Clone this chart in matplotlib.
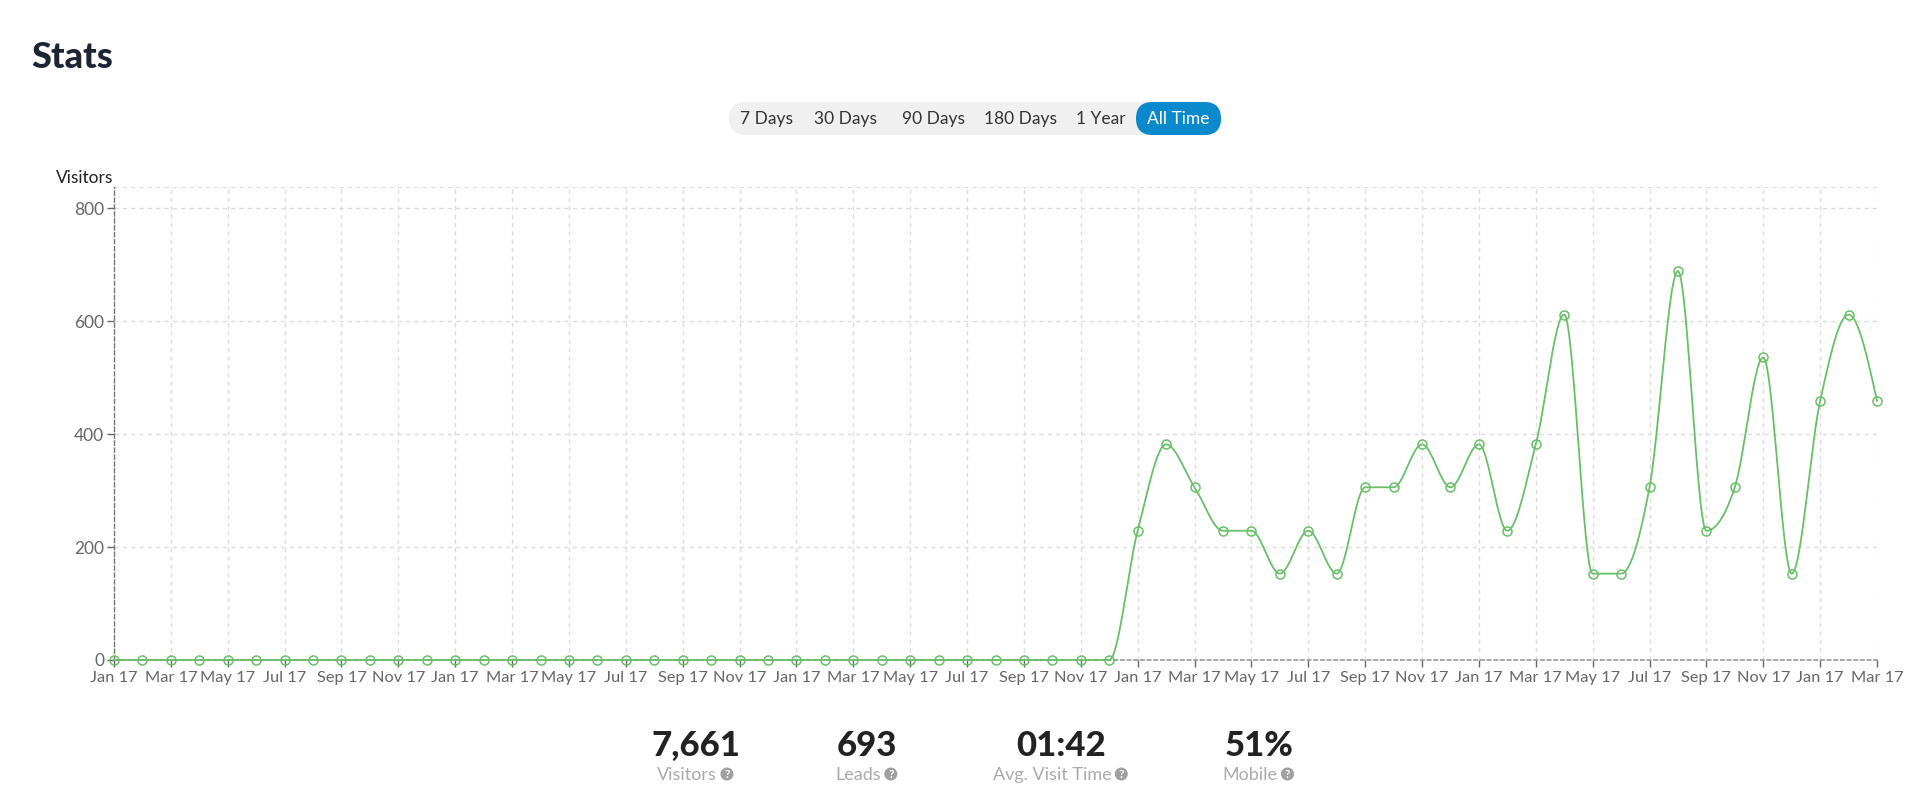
import numpy as np
import matplotlib
matplotlib.use("Agg")
import matplotlib.pyplot as plt
from matplotlib.patches import FancyBboxPatch, Circle

plt.rcParams['font.family'] = ['Lato', 'DejaVu Sans']

# ---------------- data ----------------
visitors = [0] * 36 + [229, 382, 306, 229, 229, 153, 229, 153, 306, 306, 382, 306,
                       382, 229, 382, 612, 153, 153, 306, 689, 229, 306, 536, 153,
                       459, 612, 459]
tick_labels = (["Jan 17", "Mar 17", "May 17", "Jul 17", "Sep 17", "Nov 17"] * 5
               + ["Jan 17", "Mar 17"])
y_ticks = [0, 200, 400, 600, 800]
ranges = ["7 Days", "30 Days", "90 Days", "180 Days", "1 Year", "All Time"]
stat_values = ["7,661", "693", "01:42", "51%"]
stat_names = ["Visitors", "Leads", "Avg. Visit Time", "Mobile"]

GREEN = "#6abf69"
W, H = 1920, 806
fig = plt.figure(figsize=(W / 100, H / 100), dpi=100)

# overlay in pixel coordinates
ov = fig.add_axes([0, 0, 1, 1])
ov.set_xlim(0, W)
ov.set_ylim(H, 0)
ov.axis("off")

# ---------------- chart ----------------
ax = fig.add_axes([114 / W, 1 - 660 / H, (1877 - 114) / W, (660 - 187) / H])
x = np.arange(len(visitors))
y = np.array(visitors, dtype=float)


def monotone(xs, ys, n=30):
    h = np.diff(xs)
    s = np.diff(ys) / h
    t = np.zeros_like(ys)
    for i in range(1, len(ys) - 1):
        p = (s[i - 1] * h[i] + s[i] * h[i - 1]) / (h[i - 1] + h[i])
        t[i] = (np.sign(s[i - 1]) + np.sign(s[i])) * min(abs(s[i - 1]), abs(s[i]), 0.5 * abs(p))
    t[0] = (3 * s[0] - t[1]) / 2 if len(ys) > 2 else s[0]
    t[-1] = (3 * s[-1] - t[-2]) / 2
    X, Y = [], []
    for i in range(len(ys) - 1):
        u = np.linspace(0, 1, n, endpoint=False)
        h00 = 2 * u**3 - 3 * u**2 + 1
        h10 = u**3 - 2 * u**2 + u
        h01 = -2 * u**3 + 3 * u**2
        h11 = u**3 - u**2
        X.append(xs[i] + u * h[i])
        Y.append(h00 * ys[i] + h10 * h[i] * t[i] + h01 * ys[i + 1] + h11 * h[i] * t[i + 1])
    X.append([xs[-1]])
    Y.append([ys[-1]])
    return np.concatenate(X), np.concatenate(Y)


cx, cy = monotone(x.astype(float), y)
ax.plot(cx, cy, color=GREEN, lw=1.3, zorder=3, clip_on=False)
ax.plot(x, y, 'o', ms=6.5, mfc='none', mec=GREEN, mew=1.1, zorder=4, clip_on=False)

ax.set_xlim(0, len(visitors) - 1)
ax.set_ylim(0, 838)
ax.set_xticks(np.arange(0, len(visitors), 2))
ax.set_xticklabels(tick_labels)
ax.set_yticks(y_ticks)
ax.set_yticklabels([str(v) for v in y_ticks])

ax.grid(True, color="#dcdcdc", linestyle=(0, (3, 3)), lw=1)
ax.set_axisbelow(True)
for side in ["top", "right"]:
    ax.spines[side].set_visible(False)
ax.spines["left"].set_color("#777777")
ax.spines["left"].set_linestyle((0, (3, 2)))
ax.spines["left"].set_linewidth(1)
ax.spines["bottom"].set_color("#999999")
ax.spines["bottom"].set_linestyle((0, (2, 2)))
ax.spines["bottom"].set_linewidth(1.2)
ax.axhline(838, color="#dcdcdc", linestyle=(0, (3, 3)), lw=1, zorder=1)
ax.tick_params(axis="both", colors="#666666", length=5, width=1)
ax.tick_params(axis="x", labelsize=11.8, pad=3)
ax.tick_params(axis="y", labelsize=12.5, pad=2)
for lab in ax.get_xticklabels() + ax.get_yticklabels():
    lab.set_color("#666666")

# ---------------- header ----------------
ov.text(31, 57, "Stats", fontsize=26, fontweight="black", color="#1d2433",
        ha="left", va="center")
ov.text(56, 178, "Visitors", fontsize=12.5, color="#222222", ha="left", va="center")

# range buttons
bx0, bx1, by0, by1 = 729, 1221, 102, 135
bh = by1 - by0
ov.add_patch(FancyBboxPatch((bx0, by0), bx1 - bx0, bh,
                            boxstyle="round,pad=0,rounding_size=16.5",
                            fc="#f0f0f0", ec="none"))
ov.add_patch(FancyBboxPatch((1136, by0), bx1 - 1136, bh,
                            boxstyle="round,pad=0,rounding_size=16.5",
                            fc="#0a89cc", ec="none"))
centers = [766, 846, 933, 1021, 1101, 1178]
for i, (lab, c) in enumerate(zip(ranges, centers)):
    ov.text(c, 119, lab, fontsize=12.5, ha="center", va="center",
            color="white" if i == len(ranges) - 1 else "#333333")

# ---------------- stats ----------------
fig.canvas.draw()
renderer = fig.canvas.get_renderer()
stat_centers = [696, 867, 1061, 1259]
for val, name, c in zip(stat_values, stat_names, stat_centers):
    ov.text(c, 746, val, fontsize=25, fontweight="black", color="#222222",
            ha="center", va="center")
    t = ov.text(c - 9, 775, name, fontsize=13, color="#aaaaaa", ha="center", va="center")
    bb = t.get_window_extent(renderer)
    icx = bb.x1 + 10
    ov.add_patch(Circle((icx, 774), 6.5, fc="#a0a0a0", ec="none"))
    ov.text(icx, 774.5, "?", fontsize=8.5, fontweight="bold", color="white",
            ha="center", va="center")

fig.savefig("out.png", dpi=100)
